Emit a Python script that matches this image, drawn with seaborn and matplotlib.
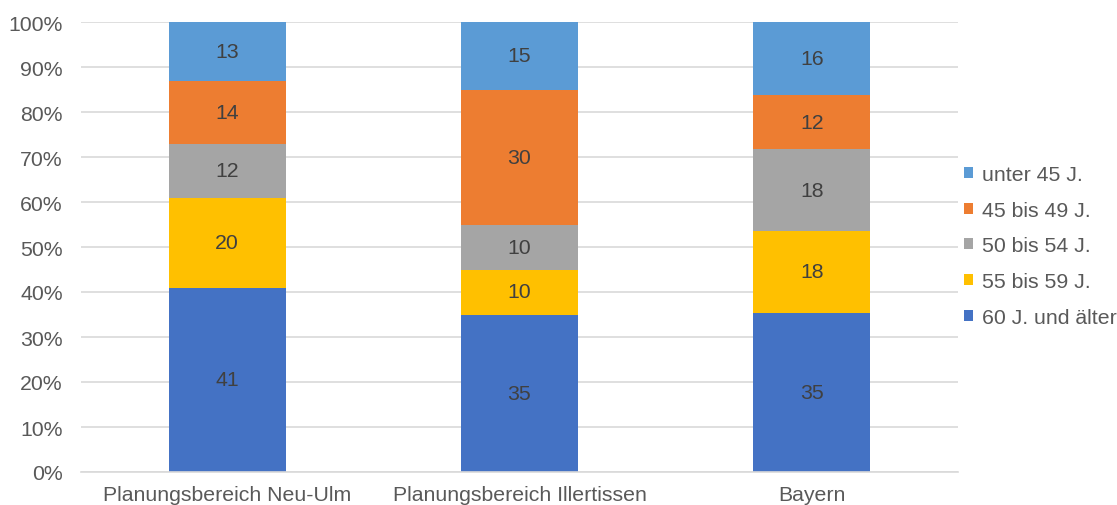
import numpy as np
import pandas as pd
import matplotlib
matplotlib.use("Agg")
import matplotlib.pyplot as plt
import seaborn as sns
from matplotlib.ticker import PercentFormatter
from matplotlib.patches import Patch

categories = ["Planungsbereich Neu-Ulm", "Planungsbereich Illertissen", "Bayern"]
series_names = ["60 J. und älter", "55 bis 59 J.", "50 bis 54 J.", "45 bis 49 J.", "unter 45 J."]
v_60 = [41, 35, 35]
v_55 = [20, 10, 18]
v_50 = [12, 10, 18]
v_45 = [14, 30, 12]
v_u45 = [13, 15, 16]
colors = ["#4472C4", "#FFC000", "#A5A5A5", "#ED7D31", "#5B9BD5"]

series_vals = [v_60, v_55, v_50, v_45, v_u45]
raw = np.array(series_vals, dtype=float)
totals = raw.sum(axis=0)
pct = raw / totals * 100

sns.set_theme(style="white")
plt.rcParams["font.family"] = ["Liberation Sans", "DejaVu Sans"]
txt = "#595959"
fs = 15.3

fig = plt.figure(figsize=(11.17, 5.06), dpi=100)
ax = fig.add_axes([81 / 1117, 1 - 473 / 506, (958 - 81) / 1117, (473 - 23) / 506])

bottom = np.zeros(len(categories))
for i, name in enumerate(series_names):
    df = pd.DataFrame({"cat": categories, "val": pct[i]})
    sns.barplot(data=df, x="cat", y="val", color=colors[i], bottom=bottom,
                width=0.4, ax=ax, saturation=1, linewidth=0, zorder=2)
    bottom = bottom + pct[i]

for i, cont in enumerate(ax.containers):
    ax.bar_label(cont, labels=[str(v) for v in series_vals[i]], label_type="center",
                 color="#404040", fontsize=fs)

ax.set_ylim(0, 100)
ax.set_yticks(np.arange(0, 101, 10))
ax.yaxis.set_major_formatter(PercentFormatter(decimals=0))
ax.grid(axis="y", color="#D9D9D9", linewidth=1.2, zorder=0)
ax.set_axisbelow(True)
for s in ["top", "right", "left"]:
    ax.spines[s].set_visible(False)
ax.spines["bottom"].set_color("#D9D9D9")
ax.spines["bottom"].set_linewidth(1.2)
ax.set_xlabel("")
ax.set_ylabel("")
ax.tick_params(axis="y", length=0, pad=13, labelsize=fs, labelcolor=txt)
ax.tick_params(axis="x", length=0, pad=9.5, labelsize=fs, labelcolor=txt)

handles = [Patch(facecolor=colors[i], edgecolor="none") for i in range(len(series_names))][::-1]
labels = series_names[::-1]
fig.legend(handles, labels, loc="center left", bbox_to_anchor=(964 / 1117, 1 - 247 / 506),
           frameon=False, fontsize=fs, labelcolor=txt, handlelength=0.42, handleheight=0.42,
           handletextpad=0.42, labelspacing=0.78, borderaxespad=0, borderpad=0)

fig.savefig("out.png", dpi=100)
